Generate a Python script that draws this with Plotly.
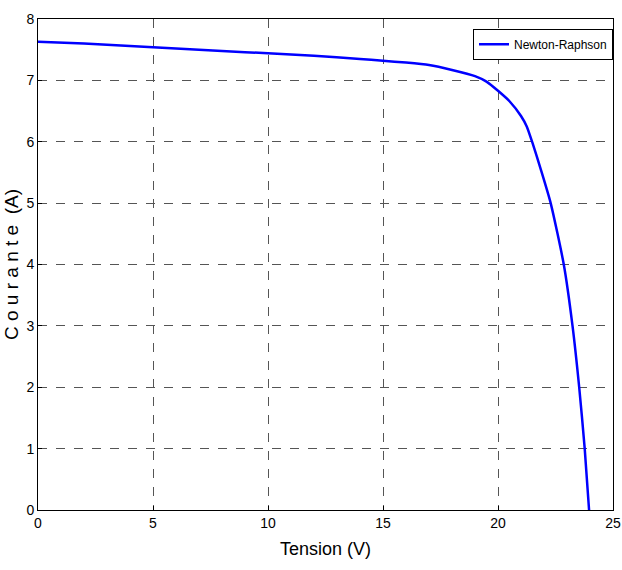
import plotly.graph_objects as go

tension = [0, 2, 4, 6, 8, 10, 12, 14, 15, 16, 17, 18, 19, 19.5, 20, 20.5, 21, 21.25, 21.5, 21.86, 22.29, 22.86, 23.24, 23.53, 23.77, 23.96]
courant = [7.63, 7.60, 7.56, 7.52, 7.48, 7.44, 7.40, 7.35, 7.32, 7.29, 7.25, 7.17, 7.07, 6.98, 6.83, 6.66, 6.42, 6.25, 5.98, 5.55, 5.0, 4.0, 3.0, 2.0, 1.0, 0.0]
x_ticks = [0, 5, 10, 15, 20, 25]
y_ticks = [0, 1, 2, 3, 4, 5, 6, 7, 8]

FONT = "Liberation Sans Narrow, Arial Narrow, Liberation Sans, Arial, sans-serif"

fig = go.Figure()
fig.add_trace(go.Scatter(x=tension, y=courant, mode="lines", name="Newton-Raphson",
                         line=dict(color="#0000FF", width=2.5, shape="spline", smoothing=0.6)))

axis_common = dict(showline=True, linecolor="black", linewidth=1, mirror=True,
                   ticks="inside", ticklen=4, tickcolor="black",
                   showgrid=True, gridcolor="#555555", griddash="dash", gridwidth=1,
                   zeroline=False, ticklabeloverflow="allow", automargin=False,
                   tickfont=dict(family=FONT, size=14, color="black"))

fig.update_layout(
    width=622, height=570,
    margin=dict(l=38, r=9, t=19, b=60),
    paper_bgcolor="white", plot_bgcolor="white",
    font=dict(family=FONT, color="black"),
    xaxis=dict(range=[0, 25], tickvals=x_ticks, **axis_common,
               title=dict(text="Tension (V)", font=dict(family=FONT, size=18), standoff=12)),
    yaxis=dict(range=[0, 8], tickvals=y_ticks, **axis_common,
               title=dict(text="C o u r a n t e  (A)", font=dict(family=FONT, size=19), standoff=2)),
    showlegend=True,
    legend=dict(x=1.0, y=0.98, xanchor="right", yanchor="top",
                bordercolor="black", borderwidth=1, bgcolor="white",
                font=dict(family=FONT, size=12, color="black")),
)

fig.write_html("out.html")
